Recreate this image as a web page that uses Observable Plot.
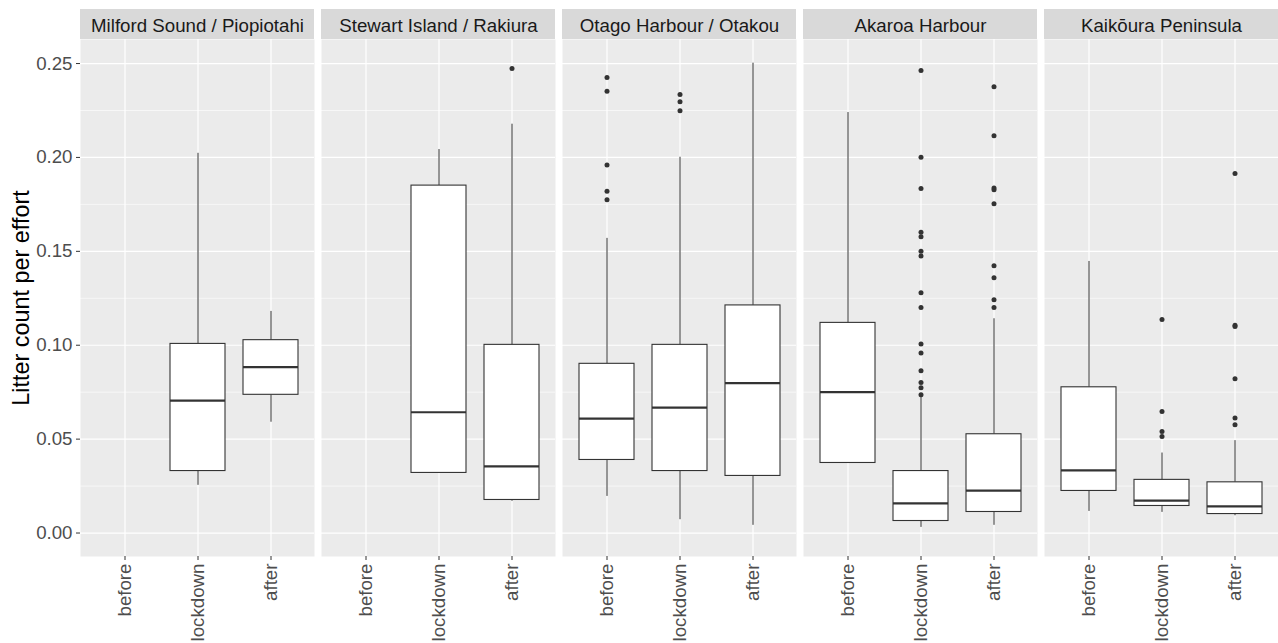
<!DOCTYPE html>
<html>
<head>
<meta charset="utf-8">
<script src="https://cdn.jsdelivr.net/npm/d3@7"></script>
<script src="https://cdn.jsdelivr.net/npm/@observablehq/plot@0.6"></script>
<style>
  html, body { margin: 0; padding: 0; background: #fff; }
  #chart svg { display: block; }
</style>
</head>
<body>
<div id="chart"></div>
<script>
// Facets (sites) and within-facet categories (periods)
const sites = [
  "Milford Sound / Piopiotahi",
  "Stewart Island / Rakiura",
  "Otago Harbour / Otakou",
  "Akaroa Harbour",
  "Kaikōura Peninsula"
];
const periods = ["before", "lockdown", "after"];

// Box summaries: one entry per box (whisker ends, quartiles, median)
const boxSite   = [0, 0, 1, 1, 2, 2, 2, 3, 3, 3, 4, 4, 4];
const boxPeriod = ["lockdown", "after", "lockdown", "after", "before", "lockdown", "after", "before", "lockdown", "after", "before", "lockdown", "after"];
const boxLow    = [0.0254, 0.0590, 0.0320, 0.0169, 0.0195, 0.0071, 0.0041, 0.0373, 0.0030, 0.0041, 0.0115, 0.0110, 0.0092];
const boxQ1     = [0.0330, 0.0736, 0.0320, 0.0176, 0.0389, 0.0330, 0.0304, 0.0373, 0.0064, 0.0112, 0.0224, 0.0144, 0.0101];
const boxMedian = [0.0705, 0.0883, 0.0643, 0.0355, 0.0609, 0.0668, 0.0798, 0.0750, 0.0158, 0.0226, 0.0334, 0.0172, 0.0142];
const boxQ3     = [0.1007, 0.1027, 0.1850, 0.1002, 0.0901, 0.1002, 0.1212, 0.1119, 0.0330, 0.0526, 0.0776, 0.0283, 0.0270];
const boxHigh   = [0.2022, 0.1180, 0.2042, 0.2177, 0.1569, 0.2001, 0.2502, 0.2239, 0.0727, 0.1141, 0.1446, 0.0426, 0.0492];

// Outlying observations
const outSite   = [1, 2, 2, 2, 2, 2, 2, 2, 2,
                   3, 3, 3, 3, 3, 3, 3, 3, 3, 3, 3, 3, 3, 3, 3,
                   3, 3, 3, 3, 3, 3, 3, 3, 3,
                   4, 4, 4, 4,
                   4, 4, 4, 4, 4, 4];
const outPeriod = ["after", "before", "before", "before", "before", "before", "lockdown", "lockdown", "lockdown",
                   "lockdown", "lockdown", "lockdown", "lockdown", "lockdown", "lockdown", "lockdown", "lockdown", "lockdown", "lockdown", "lockdown", "lockdown", "lockdown", "lockdown", "lockdown",
                   "after", "after", "after", "after", "after", "after", "after", "after", "after",
                   "lockdown", "lockdown", "lockdown", "lockdown",
                   "after", "after", "after", "after", "after", "after"];
const outValue  = [0.2473, 0.2425, 0.2353, 0.1960, 0.1820, 0.1775, 0.2335, 0.2297, 0.2249,
                   0.2463, 0.2001, 0.1834, 0.1601, 0.1578, 0.1500, 0.1475, 0.1279, 0.1201, 0.1006, 0.0959, 0.0864, 0.0801, 0.0773, 0.0736,
                   0.2377, 0.2116, 0.1837, 0.1828, 0.1754, 0.1423, 0.1359, 0.1242, 0.1201,
                   0.1137, 0.0647, 0.0540, 0.0514,
                   0.1914, 0.1107, 0.1100, 0.0821, 0.0613, 0.0576];

// Axis ticks
const yMajor = [0, 0.05, 0.10, 0.15, 0.20, 0.25];
const yMinor = [0.025, 0.075, 0.125, 0.175, 0.225];
const yTitle = "Litter count per effort";

// Tables built from the arrays above
const boxes = boxSite.map((s, i) => ({
  site: sites[s], period: boxPeriod[i],
  low: boxLow[i], q1: boxQ1[i], median: boxMedian[i], q3: boxQ3[i], high: boxHigh[i]
}));
const outliers = outSite.map((s, i) => ({site: sites[s], period: outPeriod[i], value: outValue[i]}));

// Layout
const width = 1278, height = 643;
const margin = {top: 39, right: 0, bottom: 87, left: 80};
const yDomain = [-0.0125, 0.2628];
const stripHeight = 30;
const unitsPerPx = (yDomain[1] - yDomain[0]) / (height - margin.top - margin.bottom);
const stripTop = yDomain[1] + stripHeight * unitsPerPx;
const stripMid = yDomain[1] + (stripHeight / 2) * unitsPerPx;

const ink = "#333333";
const tickText = "#4D4D4D";

const chart = Plot.plot({
  width, height,
  marginTop: margin.top, marginRight: margin.right,
  marginBottom: margin.bottom, marginLeft: margin.left,
  style: {fontFamily: "'Liberation Sans', Arial, sans-serif", background: "#fff", overflow: "visible"},
  fx: {domain: sites, paddingInner: 7 / 241, paddingOuter: 0, axis: null, label: null},
  x: {domain: periods, paddingInner: 0.25, paddingOuter: 0.225, axis: null, label: null},
  y: {domain: yDomain, axis: null, label: null},
  marks: [
    // panel background and strips
    Plot.frame({fill: "#EBEBEB"}),
    Plot.rect(sites, {fx: d => d, y1: yDomain[1], y2: stripTop, fill: "#D9D9D9"}),
    Plot.text(sites, {fx: d => d, y: stripMid, dy: 2, text: d => d, fill: "#1A1A1A", fontSize: 18.7}),

    // grid
    Plot.gridY(yMinor, {stroke: "#fff", strokeOpacity: 1, strokeWidth: 0.6}),
    Plot.gridY(yMajor, {stroke: "#fff", strokeOpacity: 1, strokeWidth: 1.2}),
    Plot.gridX({stroke: "#fff", strokeOpacity: 1, strokeWidth: 1.2}),

    // axes
    Plot.axisY({ticks: yMajor, tickFormat: d3.format(".2f"), tickSize: 4, tickPadding: 4,
                fontSize: 18.7, stroke: ink, fill: tickText, label: null}),
    Plot.axisX({tickRotate: -90, tickSize: 4, tickPadding: 3, fontSize: 18.7,
                stroke: ink, fill: tickText, label: null}),
    Plot.text([yTitle], {fx: () => sites[0], frameAnchor: "left", dx: -59, rotate: -90,
                         textAnchor: "middle", text: d => d, fontSize: 23.4, fill: "#000"}),

    // whiskers
    Plot.ruleX(boxes, {fx: "site", x: "period", y1: "low", y2: "q1", stroke: ink, strokeWidth: 1}),
    Plot.ruleX(boxes, {fx: "site", x: "period", y1: "q3", y2: "high", stroke: ink, strokeWidth: 1}),
    // boxes
    Plot.barY(boxes, {fx: "site", x: "period", y1: "q1", y2: "q3", fill: "#fff", stroke: ink, strokeWidth: 1.1}),
    // medians
    Plot.tickY(boxes, {fx: "site", x: "period", y: "median", stroke: ink, strokeWidth: 2.2}),
    // outliers
    Plot.dot(outliers, {fx: "site", x: "period", y: "value", r: 2.5, fill: ink, stroke: null})
  ]
});

document.getElementById("chart").appendChild(chart);
</script>
</body>
</html>
